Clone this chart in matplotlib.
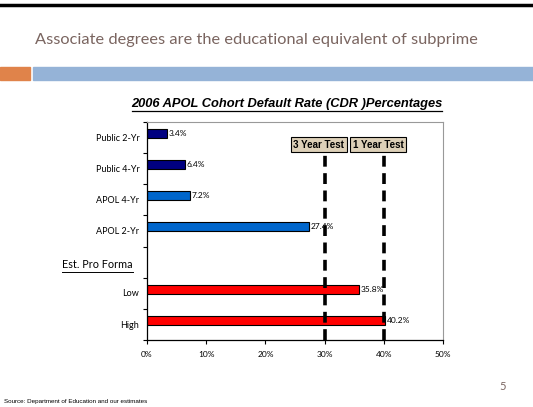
import matplotlib.pyplot as plt
import matplotlib.lines as mlines
import matplotlib.patches as mpatches

# data
categories = ['Public 2-Yr', 'Public 4-Yr', 'APOL 4-Yr', 'APOL 2-Yr', 'Est. Pro Forma', 'Low', 'High']
rates = [3.4, 6.4, 7.2, 27.4, None, 35.8, 40.2]
bar_colors = ['#000080', '#000080', '#0066CC', '#0066CC', None, '#FF0000', '#FF0000']
test_lines = [30, 40]
test_names = ['3 Year Test', '1 Year Test']
xticks = [0, 10, 20, 30, 40, 50]

W, H = 533, 407
fig = plt.figure(figsize=(W / 100, H / 100), dpi=100)
fig.patch.set_facecolor('white')

def fx(px):
    return px / W

def fy(py):
    return 1 - py / H

# slide decorations
fig.add_artist(mlines.Line2D([0, 1], [fy(5), fy(5)], color='black', lw=2.5))
fig.text(fx(256), fy(40), 'Associate degrees are the educational equivalent of subprime',
         ha='center', va='center', fontsize=11.8, color='#7a6560', family='Lato')
fig.add_artist(mpatches.Rectangle((0, fy(80)), fx(30), 13 / H, color='#E0834A'))
fig.add_artist(mpatches.Rectangle((fx(33), fy(80)), 1, 13 / H, color='#95B3D7'))

# chart title
fig.text(fx(287), fy(104), '2006 APOL Cohort Default Rate (CDR )Percentages',
         ha='center', va='center', fontsize=9.3, fontweight='bold', fontstyle='italic',
         family='Liberation Sans')
fig.add_artist(mlines.Line2D([fx(132), fx(442)], [fy(111), fy(111)], color='black', lw=0.9))

ax = fig.add_axes([fx(147), fy(340), fx(443 - 147), (340 - 122) / H])

for i, (v, c) in enumerate(zip(rates, bar_colors)):
    if v is None:
        continue
    ax.barh(i - 0.13, v, height=0.29, color=c, edgecolor='black', linewidth=0.8)
    ax.text(v + 0.3, i - 0.13, f'{v:.1f}%', va='center', ha='left', fontsize=6, family='Lato')

ax.set_xlim(0, 50)
ax.set_ylim(6.5, -0.5)
ax.set_xticks(xticks)
ax.set_xticklabels([f'{t}%' for t in xticks], fontsize=6, family='Lato')
ax.set_yticks([i + 0.5 for i in range(-1, 7)])
ax.set_yticklabels([])
ax.tick_params(axis='both', length=3, width=0.8, direction='out')
ax.tick_params(axis='x', pad=5)

for i, name in enumerate(categories):
    if name == 'Est. Pro Forma':
        continue
    ax.text(-1.3, i + 0.02, name, ha='right', va='center', fontsize=6.5, family='Lato')

fig.text(fx(133), fy(265), 'Est. Pro Forma', ha='right', va='center', fontsize=7.8, family='Lato')
fig.add_artist(mlines.Line2D([fx(62), fx(133)], [fy(272), fy(272)], color='black', lw=0.7))

for sp in ['left', 'bottom']:
    ax.spines[sp].set_color('black')
    ax.spines[sp].set_linewidth(0.9)
for sp in ['top', 'right']:
    ax.spines[sp].set_color('#999999')
    ax.spines[sp].set_linewidth(0.8)

for x, name in zip(test_lines, test_names):
    ax.axvline(x, ymin=0, ymax=(340 - 155) / 218, color='black', lw=2.6, ls=(0, (3, 1.8)))
    ax.text(x - 1.0, 0.23, name, ha='center', va='center', fontsize=7, fontweight='bold',
            family='Liberation Sans',
            bbox=dict(boxstyle='square,pad=0.25', facecolor='#DDD0B8', edgecolor='black', lw=0.8))

# page number and source
fig.text(fx(503), fy(386), '5', ha='center', va='center', fontsize=8, color='#7a6560', family='Lato')
fig.text(fx(4), fy(402), 'Source: Department of Education and our estimates', ha='left', va='center',
         fontsize=4.5, family='Liberation Sans')

fig.savefig('out.png', dpi=100)
